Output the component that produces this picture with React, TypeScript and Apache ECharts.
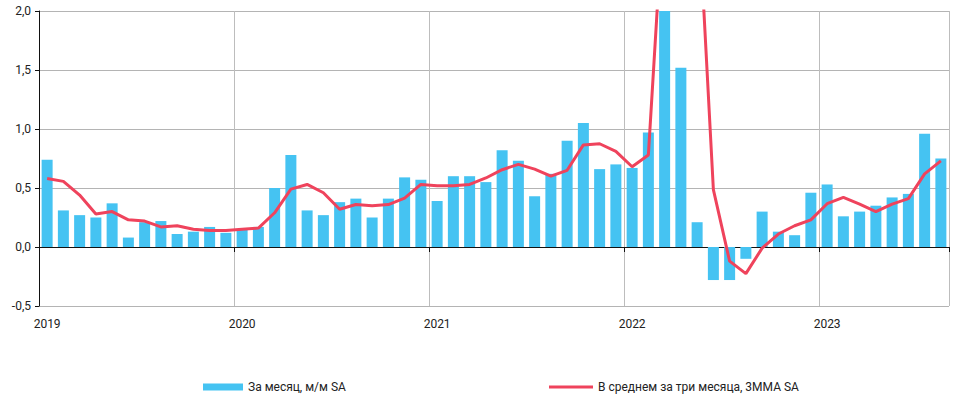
import React, { useEffect, useRef } from "react";
import * as echarts from "echarts";

const months: string[] = [
  "2019-01", "2019-02", "2019-03", "2019-04", "2019-05", "2019-06", "2019-07", "2019-08", "2019-09", "2019-10", "2019-11", "2019-12",
  "2020-01", "2020-02", "2020-03", "2020-04", "2020-05", "2020-06", "2020-07", "2020-08", "2020-09", "2020-10", "2020-11", "2020-12",
  "2021-01", "2021-02", "2021-03", "2021-04", "2021-05", "2021-06", "2021-07", "2021-08", "2021-09", "2021-10", "2021-11", "2021-12",
  "2022-01", "2022-02", "2022-03", "2022-04", "2022-05", "2022-06", "2022-07", "2022-08", "2022-09", "2022-10", "2022-11", "2022-12",
  "2023-01", "2023-02", "2023-03", "2023-04", "2023-05", "2023-06", "2023-07", "2023-08",
];

const monthly: number[] = [
  0.74, 0.31, 0.27, 0.25, 0.37, 0.08, 0.21, 0.22, 0.11, 0.13, 0.17, 0.12,
  0.15, 0.17, 0.50, 0.78, 0.31, 0.27, 0.38, 0.41, 0.25, 0.41, 0.59, 0.57,
  0.39, 0.60, 0.60, 0.55, 0.82, 0.73, 0.43, 0.62, 0.90, 1.05, 0.66, 0.70,
  0.67, 0.97, 7.6, 1.52, 0.21, -0.28, -0.28, -0.10, 0.30, 0.13, 0.10, 0.46,
  0.53, 0.26, 0.30, 0.35, 0.42, 0.45, 0.96, 0.75,
];

const avgLine: number[] = [
  0.58, 0.556, 0.44, 0.28, 0.30, 0.23, 0.22, 0.17, 0.18, 0.15, 0.14, 0.14,
  0.15, 0.16, 0.29, 0.49, 0.53, 0.46, 0.32, 0.36, 0.35, 0.36, 0.415, 0.53,
  0.52, 0.52, 0.53, 0.585, 0.655, 0.70, 0.66, 0.60, 0.65, 0.865, 0.875, 0.81,
  0.68, 0.78, 3.05, 3.33, 3.08, 0.486, -0.12, -0.226, -0.01, 0.11, 0.18, 0.23,
  0.367, 0.42, 0.364, 0.30, 0.364, 0.41, 0.62, 0.73,
];

const yTicks = { min: -0.5, max: 2.0, step: 0.5 };

const seriesNames = ["За месяц, м/м SA", "В среднем за три месяца, 3MMA SA"];

const BLUE = "#45C3F2";
const RED = "#EF435C";
const FONT = "Roboto, 'Noto Sans', sans-serif";

export default function App() {
  const ref = useRef<HTMLDivElement>(null);
  useEffect(() => {
    if (!ref.current) return;
    const chart = echarts.init(ref.current, undefined, { renderer: "svg" });
    const isJan = (i: number) => i % 12 === 0;
    chart.setOption({
      animation: false,
      textStyle: { fontFamily: FONT },
      grid: { left: 39, right: 13, top: 11, bottom: 93, containLabel: false },
      legend: [
        {
          data: [{ name: seriesNames[0], icon: "rect" }],
          left: 198,
          top: 376,
          itemWidth: 40,
          itemHeight: 7,
          textStyle: { fontSize: 12, color: "#222", fontFamily: FONT },
        },
        {
          data: [{ name: seriesNames[1], icon: "rect" }],
          left: 544,
          top: 376,
          itemWidth: 44,
          itemHeight: 3,
          textStyle: { fontSize: 12, color: "#222", fontFamily: FONT },
        },
      ],
      xAxis: [
        {
          type: "category",
          data: months,
          boundaryGap: true,
          position: "bottom",
          axisLine: { show: true, onZero: true, lineStyle: { color: "#111", width: 1 } },
          axisTick: { show: true, interval: (i: number) => isJan(i), length: 5, lineStyle: { color: "#111" } },
          axisLabel: { show: false },
          splitLine: { show: false },
        },
        {
          type: "category",
          data: months,
          boundaryGap: true,
          position: "bottom",
          axisLine: { show: false, onZero: false },
          axisTick: { show: false },
          axisLabel: {
            show: true,
            interval: (i: number) => isJan(i),
            formatter: (v: string) => v.slice(0, 4),
            color: "#222",
            fontSize: 12,
            margin: 12,
          },
          splitLine: { show: true, interval: (i: number) => isJan(i), lineStyle: { color: "#bdbdbd", width: 1 } },
        },
      ],
      yAxis: {
        type: "value",
        min: yTicks.min,
        max: yTicks.max,
        interval: yTicks.step,
        axisLine: { show: true, lineStyle: { color: "#111" } },
        axisTick: { show: true, length: 4, lineStyle: { color: "#111" } },
        axisLabel: {
          color: "#222",
          fontSize: 12,
          margin: 8,
          formatter: (v: number) => v.toFixed(1).replace(".", ","),
        },
        splitLine: { show: true, lineStyle: { color: "#b4b4b4", width: 1 } },
      },
      series: [
        {
          name: seriesNames[0],
          type: "bar",
          data: monthly,
          xAxisIndex: 0,
          barWidth: 11,
          clip: true,
          itemStyle: { color: BLUE },
        },
        {
          name: seriesNames[1],
          type: "line",
          data: avgLine,
          xAxisIndex: 0,
          clip: true,
          symbol: "none",
          lineStyle: { color: RED, width: 3 },
          itemStyle: { color: RED },
          z: 3,
        },
      ],
    });
    return () => chart.dispose();
  }, []);
  return <div ref={ref} style={{ width: 962, height: 399, position: "absolute", left: 0, top: 0 }} />;
}
